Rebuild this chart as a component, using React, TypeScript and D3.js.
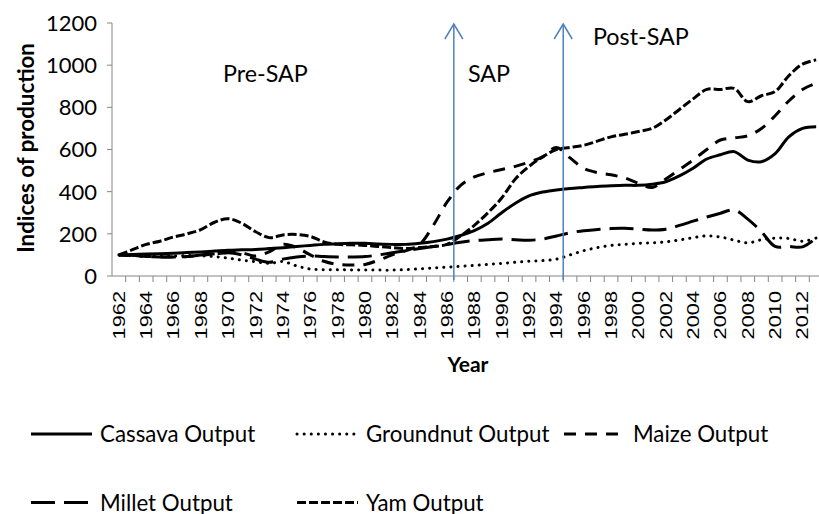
import * as d3 from "d3";
import React, { useEffect, useRef } from "react";

const years = [
  1962, 1963, 1964, 1965, 1966, 1967, 1968, 1969, 1970, 1971, 1972, 1973, 1974,
  1975, 1976, 1977, 1978, 1979, 1980, 1981, 1982, 1983, 1984, 1985, 1986, 1987,
  1988, 1989, 1990, 1991, 1992, 1993, 1994, 1995, 1996, 1997, 1998, 1999, 2000,
  2001, 2002, 2003, 2004, 2005, 2006, 2007, 2008, 2009, 2010, 2011, 2012, 2013,
];

const cassava = [
  100, 102, 104, 106, 108, 111, 114, 118, 122, 124, 126, 130, 134,
  140, 145, 150, 153, 155, 155, 152, 150, 150, 155, 163, 175, 192,
  215, 250, 300, 345, 380, 398, 408, 415, 420, 425, 428, 430, 430,
  435, 447, 475, 511, 555, 575, 590, 550, 542, 580, 660, 700, 708,
];

const groundnut = [
  100, 98, 96, 96, 95, 97, 96, 92, 85, 75, 68, 60, 68,
  48, 33, 30, 30, 29, 28, 28, 28, 30, 34, 38, 42, 46,
  50, 55, 60, 65, 70, 73, 80, 100, 120, 135, 145, 150, 155,
  157, 162, 171, 182, 190, 185, 170, 157, 172, 180, 178, 165, 180,
];

const maize = [
  100, 97, 93, 90, 90, 92, 98, 105, 112, 110, 95, 115, 150,
  135, 100, 70, 55, 52, 55, 75, 100, 120, 150, 240, 350, 430,
  470, 490, 505, 520, 540, 565, 610, 560, 510, 490, 480, 465, 440,
  420, 460, 505, 550, 600, 645, 655, 665, 700, 760, 830, 885, 915,
];

const millet = [
  100, 98, 92, 90, 90, 92, 100, 105, 110, 100, 80, 65, 80,
  90, 95, 92, 90, 90, 92, 100, 110, 120, 130, 140, 150, 160,
  168, 172, 175, 172, 170, 175, 190, 205, 215, 220, 225, 226, 222,
  218, 222, 240, 260, 280, 298, 313, 270, 210, 140, 140, 138, 180,
];

const yam = [
  100, 125, 150, 165, 185, 200, 220, 255, 272, 250, 210, 182, 195,
  197, 188, 162, 150, 148, 145, 140, 135, 130, 135, 140, 150, 190,
  240, 300, 370, 460, 520, 565, 600, 610, 620, 640, 660, 672, 685,
  700, 740, 790, 840, 885, 885, 890, 827, 855, 875, 950, 1005, 1025,
];

const seriesNames = ["Cassava Output", "Groundnut Output", "Maize Output", "Millet Output", "Yam Output"];
const seriesValues = [cassava, groundnut, maize, millet, yam];
const yTicks = [0, 200, 400, 600, 800, 1000, 1200];
const periodLabels = ["Pre-SAP", "SAP", "Post-SAP"];
const arrowYears = [1986, 1994];

// line dash per series (cassava solid, groundnut dots, maize dash, millet long dash, yam short dash)
const dashes = ["", "0.1 7", "12 9", "24 9", "9 3"];

const Chart: React.FC = () => {
  const svgRef = useRef<SVGSVGElement | null>(null);

  useEffect(() => {
    if (!svgRef.current) {
      return;
    }
    const svg = d3.select(svgRef.current);
    svg.selectAll("*").remove();

    const left = 112;
    const right = 823;
    const top = 23;
    const bottom = 276;
    const font = "Lato, 'Open Sans', sans-serif";

    const x = d3.scaleBand<number>().domain(years).range([left, right]);
    const y = d3.scaleLinear().domain([0, 1200]).range([bottom, top]);
    const bw = x.bandwidth();
    const cx = (yr: number) => (x(yr) as number) + bw / 2;

    // y axis
    svg.append("line")
      .attr("x1", left).attr("x2", left)
      .attr("y1", y(1200)).attr("y2", bottom)
      .attr("stroke", "#868686").attr("stroke-width", 1);

    const yg = svg.append("g");
    yg.selectAll("line")
      .data(yTicks)
      .enter().append("line")
      .attr("x1", left - 5).attr("x2", left)
      .attr("y1", d => y(d)).attr("y2", d => y(d))
      .attr("stroke", "#868686");
    yg.selectAll("text")
      .data(yTicks)
      .enter().append("text")
      .attr("x", 97)
      .attr("y", d => y(d))
      .attr("dy", "0.36em")
      .attr("text-anchor", "end")
      .attr("font-family", font)
      .attr("font-size", 22)
      .attr("fill", "#000")
      .text(d => d);

    // x axis
    svg.append("line")
      .attr("x1", left).attr("x2", 819)
      .attr("y1", bottom).attr("y2", bottom)
      .attr("stroke", "#868686").attr("stroke-width", 1);

    const xg = svg.append("g");
    xg.selectAll("line")
      .data(years)
      .enter().append("line")
      .attr("x1", d => (x(d) as number) + bw).attr("x2", d => (x(d) as number) + bw)
      .attr("y1", bottom).attr("y2", bottom + 6)
      .attr("stroke", "#868686");
    xg.selectAll("text")
      .data(years.filter(d => d % 2 === 0))
      .enter().append("text")
      .attr("transform", d => `translate(${cx(d)},${bottom + 15}) rotate(-90) scale(1.32,1)`)
      .attr("dy", "0.36em")
      .attr("text-anchor", "end")
      .attr("font-family", "'Liberation Sans', Arial, sans-serif")
      .attr("font-size", 16.5)
      .attr("fill", "#000")
      .text(d => d);

    // axis titles
    svg.append("text")
      .attr("transform", `translate(34,148) rotate(-90)`)
      .attr("text-anchor", "middle")
      .attr("font-family", font)
      .attr("font-weight", "bold")
      .attr("font-size", 22.3)
      .text("Indices of production");

    svg.append("text")
      .attr("x", 468).attr("y", 372)
      .attr("text-anchor", "middle")
      .attr("font-family", font)
      .attr("font-weight", "bold")
      .attr("font-size", 21)
      .text("Year");

    // series lines
    const line = d3.line<number>()
      .x((_, i) => cx(years[i]))
      .y(d => y(d))
      .curve(d3.curveCatmullRom.alpha(0.5));

    seriesValues.forEach((vals, i) => {
      svg.append("path")
        .attr("d", line(vals))
        .attr("fill", "none")
        .attr("stroke", "#000")
        .attr("stroke-width", 3)
        .attr("stroke-linecap", i === 1 ? "round" : "butt")
        .attr("stroke-dasharray", dashes[i] || null);
    });

    // period arrows
    arrowYears.forEach(yr => {
      const ax = (x(yr) as number) + bw;
      const g = svg.append("g").attr("stroke", "#4f81bd").attr("stroke-width", 1.5).attr("fill", "none");
      g.append("line").attr("x1", ax).attr("x2", ax).attr("y1", bottom + 4).attr("y2", y(1200) + 1);
      g.append("polyline").attr("points", `${ax - 9},${y(1200) + 16} ${ax},${y(1200) + 1} ${ax + 9},${y(1200) + 16}`);
    });

    // period labels
    const labelPos = [[223, 82], [468, 82], [593, 45]];
    periodLabels.forEach((t, i) => {
      svg.append("text")
        .attr("x", labelPos[i][0]).attr("y", labelPos[i][1])
        .attr("font-family", font)
        .attr("font-size", 23.3)
        .attr("fill", "#000")
        .text(t);
    });

    // legend
    const legendPos = [[31, 434], [297, 434], [564, 434], [31, 502.5], [297, 502.5]];
    seriesNames.forEach((name, i) => {
      const [lx, ly] = legendPos[i];
      svg.append("line")
        .attr("x1", lx).attr("x2", lx + 61)
        .attr("y1", ly).attr("y2", ly)
        .attr("stroke", "#000")
        .attr("stroke-width", 3)
        .attr("stroke-linecap", i === 1 ? "round" : "butt")
        .attr("stroke-dasharray", dashes[i] || null);
      svg.append("text")
        .attr("x", lx + 69).attr("y", ly + 8)
        .attr("font-family", font)
        .attr("font-size", 22.3)
        .attr("fill", "#000")
        .text(name);
    });
  }, []);

  return (
    <svg
      ref={svgRef}
      width={819}
      height={514}
      style={{ position: "absolute", left: 0, top: 0, background: "#fff" }}
    />
  );
};

export default function App() {
  return <Chart />;
}
